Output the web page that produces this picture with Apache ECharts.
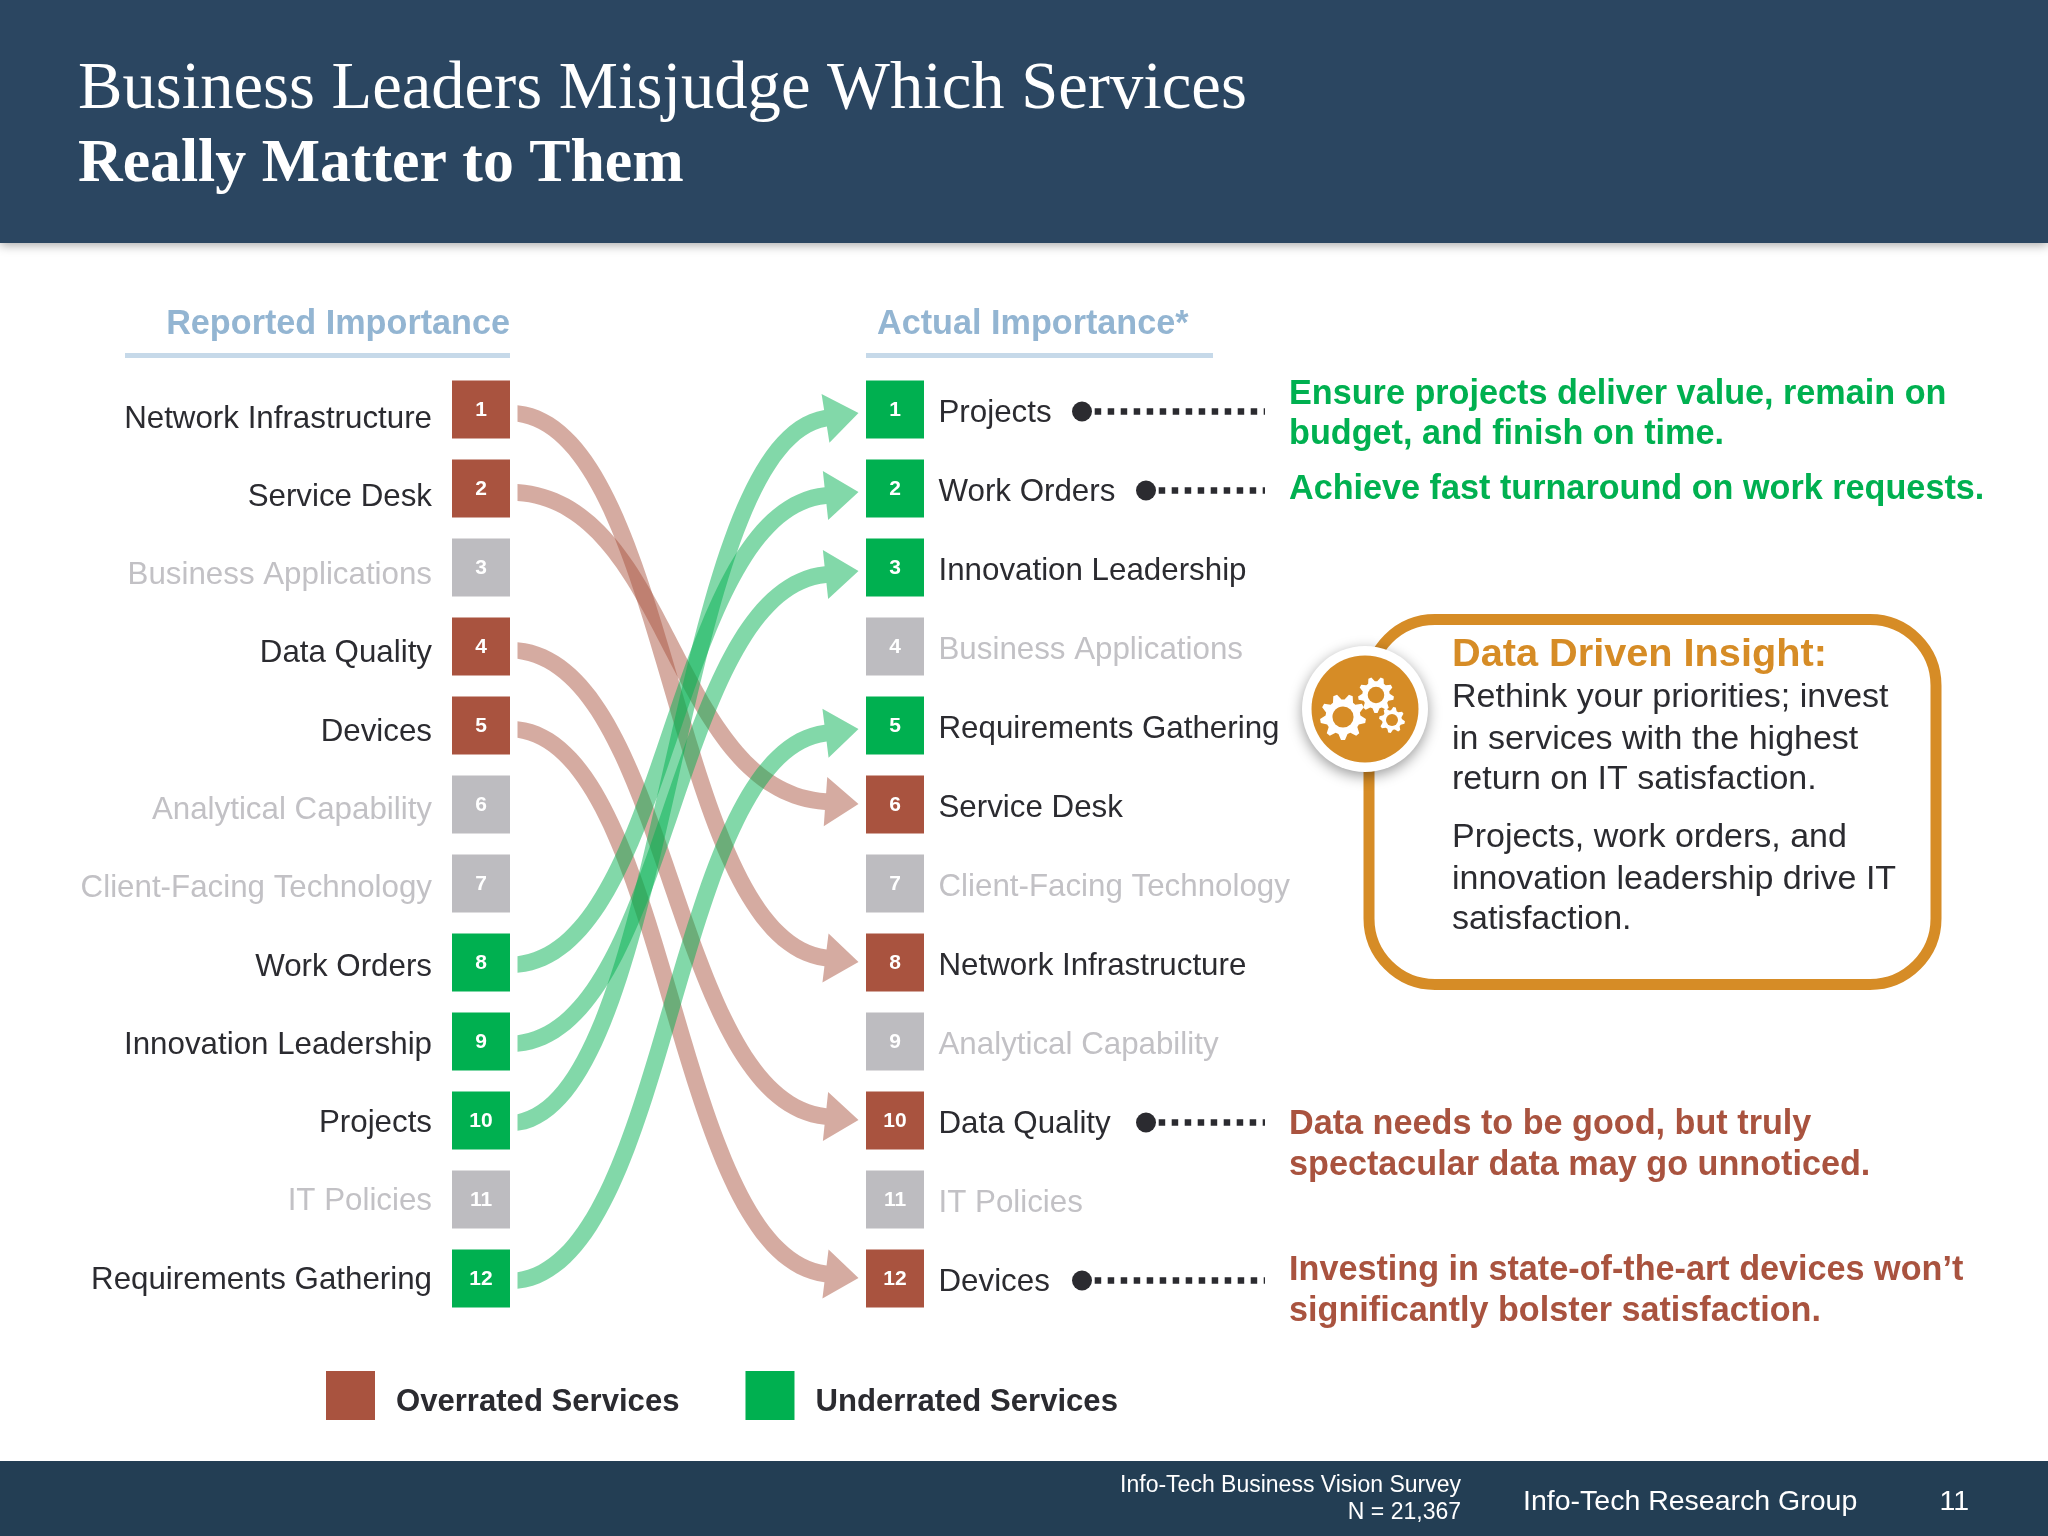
<!DOCTYPE html>
<html><head><meta charset="utf-8">
<style>html,body{margin:0;padding:0;background:#fff}#c{width:2048px;height:1536px}</style>
<script src="https://cdn.jsdelivr.net/npm/echarts@6/dist/echarts.min.js"></script>
</head><body><div id="c"></div>
<script>
const reportedServices = ["Network Infrastructure","Service Desk","Business Applications","Data Quality","Devices","Analytical Capability","Client-Facing Technology","Work Orders","Innovation Leadership","Projects","IT Policies","Requirements Gathering"];
const actualServices = ["Projects","Work Orders","Innovation Leadership","Business Applications","Requirements Gathering","Service Desk","Client-Facing Technology","Network Infrastructure","Analytical Capability","Data Quality","IT Policies","Devices"];
const overrated = ["Network Infrastructure","Service Desk","Data Quality","Devices"];
const underrated = ["Projects","Work Orders","Innovation Leadership","Requirements Gathering"];
const leaders = ["Projects","Work Orders","Data Quality","Devices"];
const legendNames = ["Overrated Services","Underrated Services"];

const RED='#a9533f', GREEN='#00b050', GREY='#bdbcc0', INK='#2b2b30', FAINT='#c2c1c5', ORANGE='#d68c26', BLUE='#93b5d2';
const SANS='"Liberation Sans", Arial, sans-serif', SERIF='"Liberation Serif", serif';
const LABEL_FONT='31.3px '+SANS;

const rows = (list, col, keep) => list.map((n,i)=>({name:n, value:[col,i+1]})).filter(d=>keep(d.name));
const isNeutral = n => !overrated.includes(n) && !underrated.includes(n);
const squares = keep => rows(reportedServices,0,keep).concat(rows(actualServices,1,keep));
const links = list => list.map(n=>[reportedServices.indexOf(n)+1, actualServices.indexOf(n)+1]);

const measure = document.createElement('canvas').getContext('2d');
const textW = (t,font)=>{measure.font=font;return measure.measureText(t).width;};

function bez(p0,p1,p2,p3,t){const u=1-t;return u*u*u*p0+3*u*u*t*p1+3*u*t*t*p2+t*t*t*p3;}
function arrowItem(color,tailOff,tipOff){
  return function(params,api){
    const a=api.coord([0,api.value(0)]), b=api.coord([1,api.value(1)]);
    const x0=a[0]+36.5, y0=a[1]+tailOff, tip=b[0]-36.5, yTip=b[1]+tipOff;
    const hl=33, hw=24.7, sw=8.4, c=0.5, tilt=0.035;
    const xe=tip-hl, w=xe-x0, D=yTip-y0;
    const dxEnd=c*w, rise=tilt*D;
    const ye=yTip-rise*hl/dxEnd;
    const X=[x0,x0+c*w,xe-c*w,xe], Y=[y0,y0+tilt*D,ye-rise,ye];
    const up=[], dn=[], N=70;
    for(let i=0;i<=N;i++){
      const t=i/N, e=0.001, t2=Math.min(1,t+e), t1=Math.max(0,t-e);
      const x=bez(...X,t), y=bez(...Y,t);
      const dx=bez(...X,t2)-bez(...X,t1), dy=bez(...Y,t2)-bez(...Y,t1), L=Math.hypot(dx,dy);
      up.push([i===0?x0:x+dy/L*sw,y-dx/L*sw]); dn.push([i===0?x0:x-dy/L*sw,y+dx/L*sw]);
    }
    const L=Math.hypot(dxEnd,rise), nx=rise/L, ny=-dxEnd/L;
    const pts=up.concat([[xe+nx*hw,ye+ny*hw],[tip,yTip],[xe-nx*hw,ye-ny*hw]],dn.reverse());
    return {type:'polygon',shape:{points:pts},style:{fill:color,opacity:0.49}};
  };
}
function labelItem(list,side){
  return function(params,api){
    const r=api.value(0), p=api.coord([side,r]), name=list[r-1];
    const left=side===0;
    const y=left ? p[1]+9.5-8*(r-1)/11 : p[1]+3.5;
    return {type:'text',style:{text:name,x:left?p[0]-49:p[0]+43.5,y:y,align:left?'right':'left',verticalAlign:'middle',font:LABEL_FONT,fill:isNeutral(name)?FAINT:INK}};
  };
}
function leaderItem(params,api){
  const r=api.value(0), p=api.coord([1,r]), name=actualServices[r-1];
  const end=p[0]+43.5+textW(name,LABEL_FONT), sx=end<1080?1082:1146, y=p[1]+2;
  return {type:'group',children:[
    {type:'line',shape:{x1:sx+12.7,y1:y,x2:1265,y2:y},style:{stroke:INK,lineWidth:6.5,lineDash:[6.5,6.5]}},
    {type:'circle',shape:{cx:sx,cy:y,r:10},style:{fill:INK}}
  ]};
}
function squareSeries(name,color,keep){
  return {type:'scatter',name:name,symbol:'rect',symbolSize:[58,58],clip:false,z:5,
    data:squares(keep),itemStyle:{color:color,opacity:1},
    label:{show:true,position:'inside',offset:[0,1],formatter:p=>String(p.value[1]),color:'#fff',fontFamily:SANS,fontWeight:'bold',fontSize:21}};
}
function gear(cx,cy,R,teeth){
  const pts=[], n=teeth*4, r0=R*0.76;
  for(let i=0;i<n;i++){
    const a=(i+0.5)/n*Math.PI*2, rad=(i%4===0||i%4===1)?R:r0;
    pts.push([cx+rad*Math.cos(a),cy+rad*Math.sin(a)]);
  }
  return [
    {type:'polygon',z:12,shape:{points:pts},style:{fill:'#fff'}},
    {type:'circle',z:13,shape:{cx:cx,cy:cy,r:R*0.46},style:{fill:ORANGE}}
  ];
}
const txt=(text,x,y,font,fill,align)=>({type:'text',z:20,style:{text:text,x:x,y:y+2.5,font:font,fill:fill,align:align||'left',verticalAlign:'middle'}});
const B34='bold 34.2px '+SANS, P34='34px '+SANS;

const option={
  animation:false,
  backgroundColor:'#ffffff',
  grid:{left:481,width:414,top:409.5,height:869,containLabel:false},
  xAxis:{type:'value',min:0,max:1,show:false},
  yAxis:{type:'value',min:1,max:12,inverse:true,show:false},
  title:[
    {text:'Business Leaders Misjudge Which Services',left:78,top:57,z:20,padding:0,textStyle:{color:'#fff',fontFamily:SERIF,fontWeight:'normal',fontSize:66.6}},
    {text:'Really Matter to Them',left:78,top:134,z:20,padding:0,textStyle:{color:'#fff',fontFamily:SERIF,fontWeight:'bold',fontSize:61.8}}
  ],
  legend:{data:legendNames.map(n=>({name:n,icon:'rect'})),left:326,top:1371,itemWidth:49,itemHeight:49,itemGap:66,selectedMode:false,padding:0,
    formatter:n=>'{t|'+n+'}',
    textStyle:{color:INK,fontFamily:SANS,fontWeight:'bold',fontSize:31.1,padding:[0,0,0,16],
      rich:{t:{color:INK,fontFamily:SANS,fontWeight:'bold',fontSize:31.1,padding:[13,0,0,0]}}}},
  tooltip:{show:false},
  series:[
    {type:'custom',name:'overrated links',clip:false,z:2,data:links(overrated),renderItem:arrowItem('#a9533f',4,-0.5)},
    {type:'custom',name:'underrated links',clip:false,z:3,data:links(underrated),renderItem:arrowItem('#00b050',2,3.5)},
    squareSeries(legendNames[0],RED,n=>overrated.includes(n)),
    squareSeries(legendNames[1],GREEN,n=>underrated.includes(n)),
    squareSeries('Neutral Services',GREY,isNeutral),
    {type:'custom',name:'reported labels',clip:false,z:6,data:reportedServices.map((n,i)=>[i+1]),renderItem:labelItem(reportedServices,0)},
    {type:'custom',name:'actual labels',clip:false,z:6,data:actualServices.map((n,i)=>[i+1]),renderItem:labelItem(actualServices,1)},
    {type:'custom',name:'leaders',clip:false,z:4,data:leaders.map(n=>[actualServices.indexOf(n)+1]),renderItem:leaderItem}
  ],
  graphic:[
    {type:'rect',z:0,shape:{x:0,y:0,width:2048,height:243},style:{fill:'#2b4661',shadowBlur:10,shadowColor:'rgba(0,0,0,0.35)',shadowOffsetY:2}},
    {type:'rect',z:0,shape:{x:0,y:1461,width:2048,height:75},style:{fill:'#233e54'}},
    {type:'rect',z:1,shape:{x:125,y:353,width:385,height:5},style:{fill:'#c6d9e9'}},
    {type:'rect',z:1,shape:{x:866,y:353,width:347,height:5},style:{fill:'#c6d9e9'}},
    txt('Reported Importance',510,322,B34,BLUE,'right'),
    txt('Actual Importance*',877,322,B34,BLUE),
    txt('Ensure projects deliver value, remain on',1289,392,B34,GREEN),
    txt('budget, and finish on time.',1289,432,B34,GREEN),
    txt('Achieve fast turnaround on work requests.',1289,487,B34,GREEN),
    txt('Data needs to be good, but truly',1289,1122,B34,RED),
    txt('spectacular data may go unnoticed.',1289,1163,B34,RED),
    txt('Investing in state-of-the-art devices won\u2019t',1289,1268,B34,RED),
    txt('significantly bolster satisfaction.',1289,1309,B34,RED),
    {type:'rect',z:8,shape:{x:1369,y:619.5,width:567,height:365,r:66},style:{fill:'#fff',stroke:ORANGE,lineWidth:11}},
    {type:'circle',z:10,shape:{cx:1365,cy:709,r:63},style:{fill:'#fff',shadowBlur:14,shadowColor:'rgba(0,0,0,0.4)',shadowOffsetY:4}},
    {type:'circle',z:11,shape:{cx:1365,cy:709,r:53.5},style:{fill:ORANGE}},
    ...gear(1343,717,23,9),...gear(1376,695,18,9),...gear(1392,720,13,8),
    txt('Data Driven Insight:',1452,652.5,'bold 39.7px '+SANS,ORANGE),
    txt('Rethink your priorities; invest',1452,695,P34,INK),
    txt('in services with the highest',1452,737,P34,INK),
    txt('return on IT satisfaction.',1452,777.5,P34,INK),
    txt('Projects, work orders, and',1452,835,P34,INK),
    txt('innovation leadership drive IT',1452,877,P34,INK),
    txt('satisfaction.',1452,917.5,P34,INK),
    txt('Info-Tech Business Vision Survey',1461,1483,'23px '+SANS,'#fff','right'),
    txt('N = 21,367',1461,1510,'23px '+SANS,'#fff','right'),
    txt('Info-Tech Research Group',1523,1500,'28.5px '+SANS,'#fff'),
    txt('11',1969,1500,'28.5px '+SANS,'#fff','right')
  ]
};
const chart=echarts.init(document.getElementById('c'),null,{renderer:'canvas',width:2048,height:1536});
chart.setOption(option);
</script></body></html>
